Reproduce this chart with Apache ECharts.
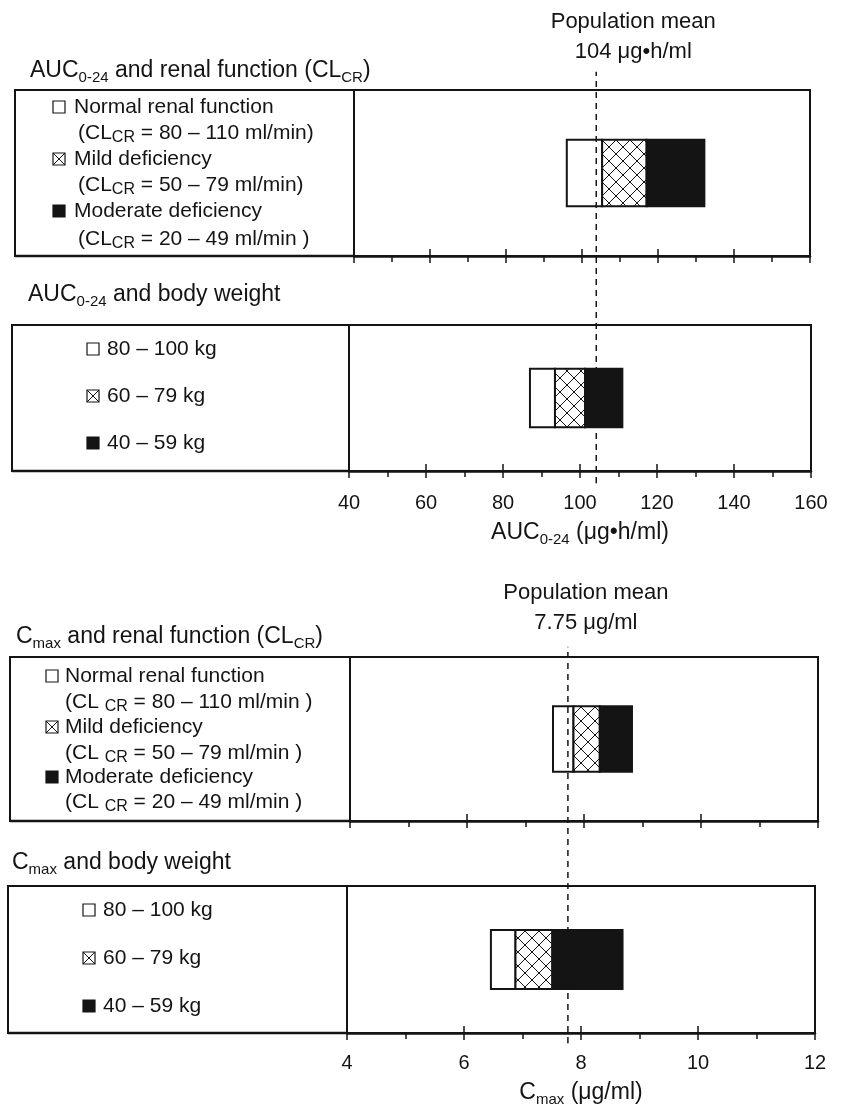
<!DOCTYPE html>
<html>
<head>
<meta charset="utf-8">
<script src="https://cdn.jsdelivr.net/npm/echarts/dist/echarts.min.js"></script>
<style>
  html, body { margin: 0; padding: 0; background: #fff; }
  #chart { width: 844px; height: 1104px; }
</style>
</head>
<body>
<div id="chart"></div>
<script>
// segment edges of each stacked bar: white | hatched | black
var aucRenal = [96, 105.3, 117, 132.2];
var aucWeight = [87, 93.5, 101.3, 111];
var cmaxRenal = [7.47, 7.82, 8.27, 8.82];
var cmaxWeight = [6.46, 6.88, 7.51, 8.71];
var aucMean = 104;
var cmaxMean = 7.75;
var aucScale = [40, 160, 20];   // min, max, tick step
var cmaxScale = [4, 12, 2];
var renalGroups = ['Normal renal function', 'Mild deficiency', 'Moderate deficiency'];
var renalRanges = ['80 – 110', '50 – 79', '20 – 49'];
var weightGroups = ['80 – 100 kg', '60 – 79 kg', '40 – 59 kg'];

var INK = '#141414';
var FONT = '"Liberation Sans", Arial, Helvetica, sans-serif';
var RICH = {
  n: { fontFamily: FONT, fontSize: 21, lineHeight: 26, color: INK },
  s: { fontFamily: FONT, fontSize: 14, lineHeight: 16, verticalAlign: 'bottom', color: INK },
  c: { fontFamily: FONT, fontSize: 16, lineHeight: 20, verticalAlign: 'bottom', color: INK },
  t: { fontFamily: FONT, fontSize: 23, lineHeight: 28, color: INK },
  ts: { fontFamily: FONT, fontSize: 15, lineHeight: 17, verticalAlign: 'bottom', color: INK }
};

function crossCanvas(size) {
  var c = document.createElement('canvas');
  c.width = size; c.height = size;
  var g = c.getContext('2d');
  g.fillStyle = '#fff';
  g.fillRect(0, 0, size, size);
  g.strokeStyle = INK;
  g.lineWidth = 1;
  g.beginPath();
  g.moveTo(-1, -1); g.lineTo(size + 1, size + 1);
  g.moveTo(size + 1, -1); g.lineTo(-1, size + 1);
  g.stroke();
  return c;
}
var barFills = ['#fff', { image: crossCanvas(14), repeat: 'repeat' }, INK];
var keyFills = ['#fff', { image: crossCanvas(11), repeat: 'repeat' }, INK];

// panel boxes (pixels)
var layout = [
  { box: 15, left: 354, right: 810, top: 90, bottom: 256 },
  { box: 12, left: 349, right: 811, top: 325, bottom: 471 },
  { box: 10, left: 350, right: 818, top: 657, bottom: 821 },
  { box: 8, left: 347, right: 815, top: 886, bottom: 1033 }
];
var scales = [aucScale, aucScale, cmaxScale, cmaxScale];
var bars = [aucRenal, aucWeight, cmaxRenal, cmaxWeight];

var grids = [], xAxes = [], yAxes = [], series = [], graphics = [];

layout.forEach(function (L, i) {
  var sc = scales[i];
  var labelled = (i === 1 || i === 3);
  grids.push({
    left: L.left, top: L.top, width: L.right - L.left, height: L.bottom - L.top,
    show: true, borderColor: INK, borderWidth: 2, outerBoundsMode: 'none'
  });
  xAxes.push({
    gridIndex: i, type: 'value', min: sc[0], max: sc[1], interval: sc[2],
    axisLine: { show: true, onZero: false, lineStyle: { color: INK, width: 2.5 } },
    axisTick: { show: true, length: 7, lineStyle: { color: INK, width: 1.5 } },
    minorTick: { show: true, splitNumber: 2, length: 6, lineStyle: { color: INK, width: 1.5 } },
    splitLine: { show: false },
    axisLabel: {
      show: labelled, color: INK, fontSize: 20, fontFamily: FONT,
      margin: i === 1 ? 22 : 20
    },
    name: i === 1 ? '{t|AUC}{ts|0-24}{t| (μg•h/ml)}' : (i === 3 ? '{t|C}{ts|max}{t| (μg/ml)}' : ''),
    nameLocation: 'middle',
    nameGap: i === 1 ? 48 : 46,
    nameTextStyle: { rich: RICH }
  });
  yAxes.push({ gridIndex: i, type: 'category', data: [''], show: false });
});

// second set of x axes: the inner half of the major ticks
layout.forEach(function (L, i) {
  var sc = scales[i];
  xAxes.push({
    gridIndex: i, type: 'value', position: 'bottom', offset: 0,
    min: sc[0], max: sc[1], interval: sc[2],
    axisLine: { show: false, onZero: false },
    axisTick: { show: true, inside: true, length: 7, lineStyle: { color: INK, width: 1.5 } },
    axisLabel: { show: false },
    splitLine: { show: false }
  });
});

function renderSeg(params, api) {
  var p0 = api.coord([api.value(0), 0]);
  var p1 = api.coord([api.value(1), 0]);
  var h = api.size([0, 1])[1] * 0.4;
  return {
    type: 'rect',
    shape: { x: p0[0], y: p0[1] - h / 2, width: p1[0] - p0[0], height: h },
    style: { fill: barFills[api.value(3)], stroke: INK, lineWidth: 2 }
  };
}

bars.forEach(function (b, i) {
  var data = [];
  for (var k = 0; k < b.length - 1; k++) data.push([b[k], b[k + 1], 0, k]);
  series.push({
    type: 'custom', xAxisIndex: i, yAxisIndex: i,
    encode: { x: [0, 1], y: 2 },
    data: data, renderItem: renderSeg, silent: true, z: 5
  });
});

// dashed population-mean lines, each spanning two panels
var means = [
  { v: aucMean, unit: ' μg•h/ml', sc: aucScale, left: 352, right: 810, top: 72, bottom: 483, dx: 37, dist: 5 },
  { v: cmaxMean, unit: ' μg/ml', sc: cmaxScale, left: 349, right: 816, top: 647, bottom: 1043, dx: 18, dist: 9 }
];
means.forEach(function (m, j) {
  var gi = 4 + j;
  grids.push({ left: m.left, top: m.top, width: m.right - m.left, height: m.bottom - m.top, outerBoundsMode: 'none' });
  xAxes.push({ gridIndex: gi, type: 'value', min: m.sc[0], max: m.sc[1], show: false });
  yAxes.push({ gridIndex: gi, type: 'value', min: 0, max: 1, show: false });
  series.push({
    type: 'line', xAxisIndex: 8 + j, yAxisIndex: gi, z: 10, silent: true,
    symbol: 'circle', symbolSize: 1, showSymbol: true,
    itemStyle: { color: INK },
    lineStyle: { color: INK, width: 1.5, type: [6, 5] },
    data: [
      [m.v, 0],
      {
        value: [m.v, 1],
        label: {
          show: true, position: 'top', distance: m.dist, offset: [m.dx, 0],
          formatter: 'Population mean\n' + m.v + m.unit,
          color: INK, fontSize: 22, lineHeight: 30, fontFamily: FONT, align: 'center'
        }
      }
    ]
  });
});

function txt(x, y, s) {
  return {
    type: 'text', x: x, y: y, silent: true,
    style: { text: s, rich: RICH, fill: INK, fontSize: 21, fontFamily: FONT, align: 'left', verticalAlign: 'middle' }
  };
}
function key(x, y, k) {
  return {
    type: 'rect', x: x, y: y - 6, silent: true,
    shape: { x: 0, y: 0, width: 12, height: 12 },
    style: { fill: keyFills[k], stroke: INK, lineWidth: 1.2 }
  };
}
keyFills[1] = { image: crossCanvas(12), repeat: 'repeat' };

// left label boxes
layout.forEach(function (L) {
  graphics.push({
    type: 'rect', silent: true,
    shape: { x: L.box, y: L.top, width: L.left - L.box, height: L.bottom - L.top },
    style: { fill: 'none', stroke: INK, lineWidth: 2 }
  });
  graphics.push({
    type: 'line', silent: true,
    shape: { x1: L.box, y1: L.bottom, x2: L.left, y2: L.bottom },
    style: { stroke: INK, lineWidth: 2.5 }
  });
});

// titles
graphics.push(txt(30, 71, '{t|AUC}{ts|0-24}{t| and renal function (CL}{ts|CR}{t|)}'));
graphics.push(txt(28, 295, '{t|AUC}{ts|0-24}{t| and body weight}'));
graphics.push(txt(16, 637, '{t|C}{ts|max}{t| and renal function (CL}{ts|CR}{t|)}'));
graphics.push(txt(12, 863, '{t|C}{ts|max}{t| and body weight}'));

// renal keys
var renalKeys = [
  { sq: 53, tx: 74, sub: 78, ys: [107, 133, 159, 185, 211, 239], cr: '{n|(CL}{c|CR}{n| = ', close: ['{n| ml/min)}', '{n| ml/min)}', '{n| ml/min )}'] },
  { sq: 46, tx: 65, sub: 65, ys: [676, 702, 727, 753, 777, 802], cr: '{n|(CL }{c|CR}{n| = ', close: ['{n| ml/min )}', '{n| ml/min )}', '{n| ml/min )}'] }
];
renalKeys.forEach(function (R) {
  renalGroups.forEach(function (g, k) {
    graphics.push(key(R.sq, R.ys[2 * k], k));
    graphics.push(txt(R.tx, R.ys[2 * k], '{n|' + g + '}'));
    graphics.push(txt(R.sub, R.ys[2 * k + 1], R.cr + renalRanges[k] + '}' + R.close[k]));
  });
});

// body weight keys
var weightKeys = [
  { sq: 87, tx: 107, ys: [349, 396, 443] },
  { sq: 83, tx: 103, ys: [910, 958, 1006] }
];
weightKeys.forEach(function (W) {
  weightGroups.forEach(function (g, k) {
    graphics.push(key(W.sq, W.ys[k], k));
    graphics.push(txt(W.tx, W.ys[k], '{n|' + g + '}'));
  });
});

var chart = echarts.init(document.getElementById('chart'));
chart.setOption({
  animation: false,
  backgroundColor: '#fff',
  grid: grids,
  xAxis: xAxes,
  yAxis: yAxes,
  series: series,
  graphic: graphics
});
</script>
</body>
</html>
